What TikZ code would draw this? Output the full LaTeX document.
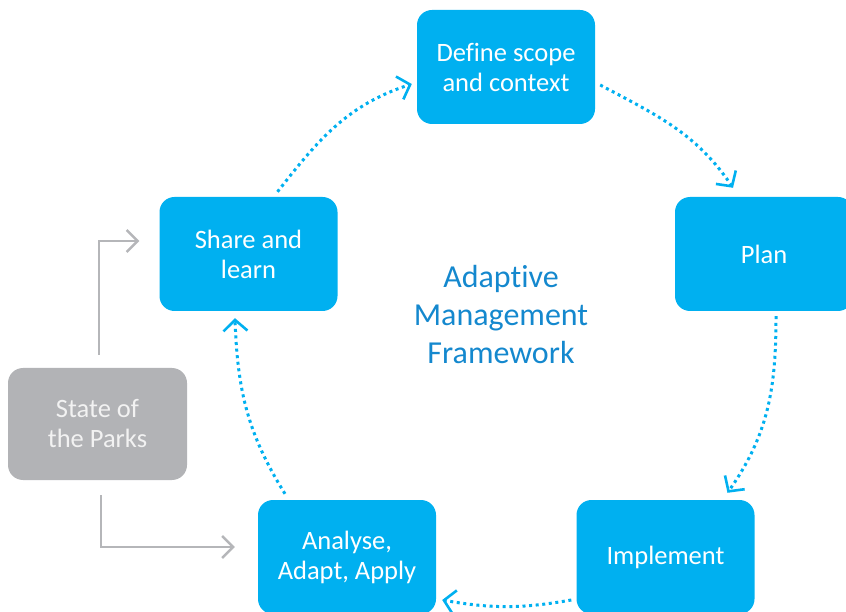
\documentclass[tikz,border=0pt]{standalone}
\usepackage{fontspec}
\setmainfont{Carlito}[Ligatures={NoCommon}]
\usepackage{tikz}
\usetikzlibrary{arrows.meta}
\definecolor{stageblue}{HTML}{00B0F0}
\definecolor{titleblue}{RGB}{20,136,206}
\definecolor{reportgrey}{HTML}{B2B3B6}
\definecolor{feedgrey}{HTML}{B5B6B9}
\tikzset{
    stage/.style={rectangle, rounded corners=15pt, fill=stageblue, text=white,
        minimum width=178pt, minimum height=114pt, align=center,
        font=\fontsize{26.5}{30}\selectfont},
    report/.style={stage, fill=reportgrey, text=white!95!black,
        minimum width=179pt, minimum height=112pt},
    title/.style={align=center, text=titleblue, font=\fontsize{32}{38}\selectfont},
    cycle/.style={stageblue, line width=3pt, dash pattern=on 3pt off 3.6pt,
        -{Straight Barb[length=11pt, width=24pt, line width=2.6pt]}},
    feed/.style={feedgrey, line width=2.6pt,
        -{Straight Barb[length=11pt, width=22pt, line width=2.4pt]}}
}

\begin{document}
\begin{tikzpicture}[x=1pt, y=1pt]
            \useasboundingbox (0,0) rectangle (846,611);

            \node[stage] (define) at (506,544) {Define scope\\and context};
            \node[stage] (plan) at (764,357) {Plan};
            \node[stage] (implement) at (665.5,54) {Implement};
            \node[stage] (analyse) at (347,54) {Analyse,\\Adapt, Apply};
            \node[stage] (share) at (248.5,357) {Share and\\learn};
            \node[report] (state) at (97.5,187) {State of\\the Parks};

            \node[title] (framework) at (501,296) {Adaptive\\Management\\Framework};

            % the management cycle
            \draw[cycle] ([shift={(29pt,5pt)}]share.north) to[out=52, in=198]
                ([shift={(-5pt,-17pt)}]define.west);
            \draw[cycle] ([shift={(5pt,-18pt)}]define.east) to[out=-28, in=124]
                ([shift={(-31pt,9pt)}]plan.north);
            \draw[cycle] ([shift={(12pt,-5pt)}]plan.south) to[out=-90, in=55]
                ([shift={(62pt,7pt)}]implement.north);
            \draw[cycle] ([shift={(-5pt,-43pt)}]implement.west) to[out=190, in=-10]
                ([shift={(6pt,-43pt)}]analyse.east);
            \draw[cycle] ([shift={(-62pt,6pt)}]analyse.north) to[out=122, in=-88]
                ([shift={(-13.5pt,-7pt)}]share.south);

            % report feeds into the cycle
            \draw[feed, shorten <=13pt, shorten >=20pt] ([xshift=1.5pt]state.north) |- ([yshift=13pt]share.west);
            \draw[feed, shorten <=15pt, shorten >=23pt] ([xshift=3.5pt]state.south) |- ([yshift=10pt]analyse.west);
        \end{tikzpicture}
\end{document}
